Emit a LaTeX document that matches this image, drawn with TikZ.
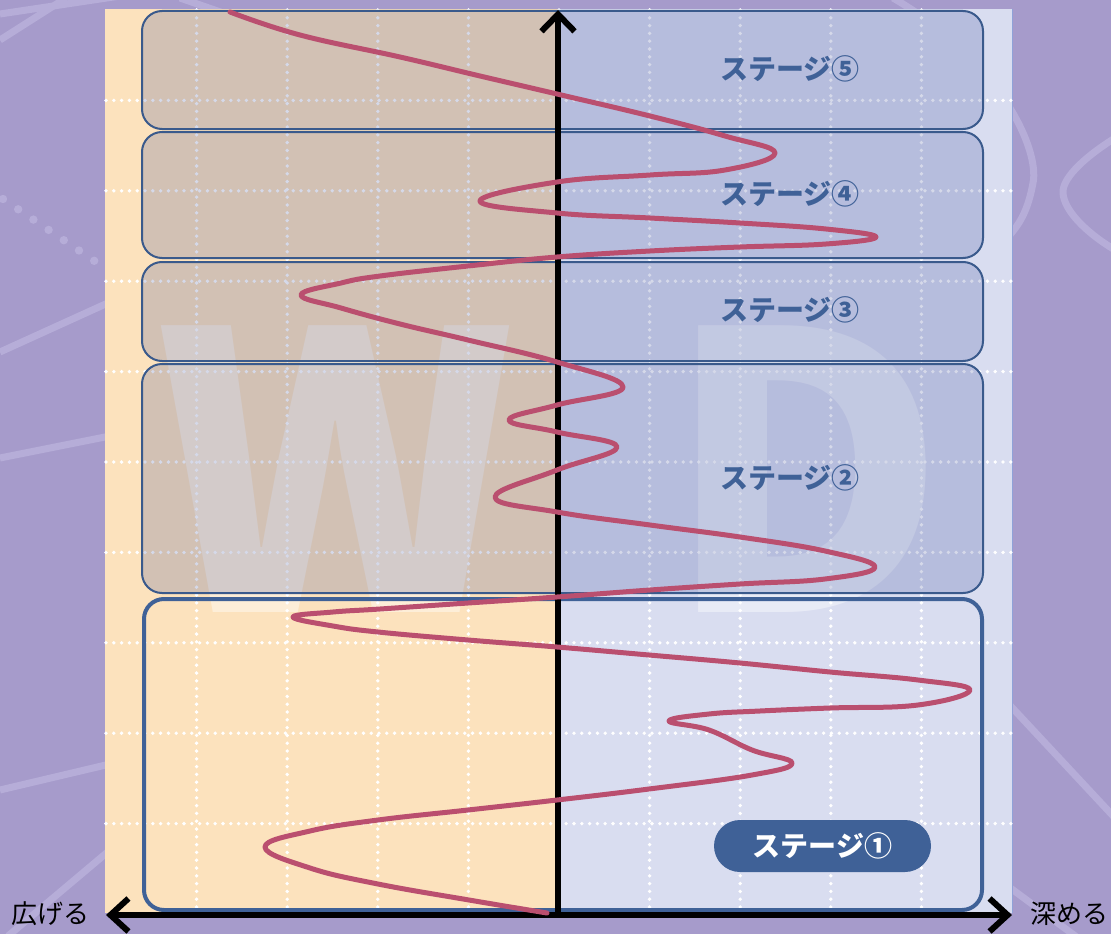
\documentclass[tikz,border=0pt]{standalone}
\usepackage{fontspec}
\newfontfamily\jp{Noto Sans CJK JP}
\usetikzlibrary{arrows.meta}
\definecolor{bgpurple}{HTML}{A69BCB}
\definecolor{deco}{HTML}{B6ADD8}
\definecolor{orangebg}{HTML}{FCE2BD}
\definecolor{bluebg}{HTML}{D9DDF0}
\definecolor{bluerim}{HTML}{8FA2D8}
\definecolor{boxline}{HTML}{3A5A8C}
\definecolor{stagecol}{HTML}{3F6197}
\definecolor{curvecol}{HTML}{BA4F6F}
\definecolor{overlaycol}{HTML}{2E4194}
\begin{document}
\begin{tikzpicture}[x=1pt,y=-1pt,
  decoline/.style={draw=deco, line width=7pt},
  griddot/.style={draw=white, line width=3.8pt, line cap=round, dash pattern=on 0pt off 7.8pt},
  stagebox/.style={draw=boxline, line width=2pt, fill=overlaycol, fill opacity=0.2, rounded corners=20pt, inner sep=0pt, anchor=north west},
  firstbox/.style={draw=stagecol, line width=4pt, rounded corners=20pt, inner sep=0pt, anchor=north west},
  stagelabel/.style={font=\jp\bfseries\fontsize{28}{30}\selectfont, text=stagecol, inner sep=0pt},
  axislabel/.style={font=\jp\fontsize{26}{28}\selectfont, text=black, inner sep=0pt},
  bigletter/.style={font=\jp\bfseries\fontsize{385}{385}\selectfont, text=white, text opacity=0.42, inner sep=0pt, anchor=base},
  axisline/.style={draw=black, line width=6pt},
  curveline/.style={draw=curvecol, line width=5pt, line cap=round, line join=round}]
\useasboundingbox (0,0) rectangle (1111,934);
% background
\fill[bgpurple] (0,0) rectangle (1111,934);
% decorative lines
\draw[decoline] (0,14) -- (200,-16);
\draw[decoline] (0,40) -- (66,-2);
\draw[decoline] (180,-2) -- (232,16);
\draw[decoline] (0,352) -- (110,302);
\draw[decoline] (0,458) -- (110,436);
\draw[decoline] (0,790) -- (110,764);
\draw[decoline] (8,936) -- (110,850);
\draw[decoline] (893,-2) .. controls (1000,60) and (1040,150) .. (1033,183) .. controls (1028,210) and (1020,225) .. (1005,240);
\draw[decoline] (1115,138) .. controls (1080,160) and (1062,180) .. (1063,193) .. controls (1064,210) and (1085,232) .. (1115,250);
\draw[decoline] (1005,700) -- (1115,818);
\draw[decoline] (1005,884) -- (1078,938);
\foreach \k in {0,...,6} {
  \fill[deco] ({3+15.2*\k},{199+10.3*\k}) circle (4.2pt);
}
% panel
\fill[orangebg] (105,9) rectangle (558,913);
\fill[bluebg] (558,9) rectangle (1012,913);
\draw[bluerim, line width=1pt] (1012,9) -- (1012,913);
% big letters
\node[bigletter] (W) at (335.5,612) {W};
\node[bigletter] (D) at (806,612) {D};
% grid
\foreach \i in {1,...,9} {
  \draw[griddot] ({106+90.6*\i},10) -- ({106+90.6*\i},912);
  \draw[griddot] (106,{10+90.4*\i}) -- (1011,{10+90.4*\i});
}
% stage boxes
\node[stagebox, minimum width=841pt, minimum height=118pt] (s5) at (141,10) {};
\node[stagebox, minimum width=841pt, minimum height=126pt] (s4) at (141,131) {};
\node[stagebox, minimum width=841pt, minimum height=99pt] (s3) at (141,261) {};
\node[stagebox, minimum width=841pt, minimum height=229pt] (s2) at (141,363) {};
\node[firstbox, minimum width=838pt, minimum height=311pt] (s1) at (142,597) {};
% axes
\coordinate (origin) at (558,915);
\coordinate (topend) at (558,10);
\coordinate (leftend) at (106,915);
\coordinate (rightend) at (1012,915);
\draw[axisline, -{Straight Barb[length=17pt,width=33pt]}] (origin) -- (topend);
\draw[axisline, {Straight Barb[length=18pt,width=33pt]}-{Straight Barb[length=18pt,width=33pt]}] (leftend) -- (rightend);
% curve
\draw[curveline] plot[smooth, tension=0.7] coordinates {
 (230,12) (300,35) (400,57) (480,76) (557,94) (650,116) (725,136)
 (775,153)
 (725,170) (650,175) (557,182)
 (480,201)
 (557,213) (650,218) (740,223) (826,229)
 (876,237)
 (826,244) (740,247) (650,251) (557,257) (468,266) (380,276) (341,283)
 (301,295)
 (341,308) (400,324) (468,340) (557,362)
 (623,387)
 (557,405)
 (509,420)
 (557,432)
 (617,447)
 (557,470)
 (495,497)
 (557,512) (650,525) (740,537) (825,551)
 (875,567)
 (825,579) (740,584) (650,590) (557,597) (468,603) (380,609) (333,612)
 (293,617)
 (333,626) (378,632) (468,640) (557,647) (649,655) (740,663) (830,672) (918,680)
 (970,690)
 (918,705) (830,708) (760,711) (709,714)
 (669,721)
 (709,730) (752,750)
 (792,763)
 (752,775) (649,789) (557,800) (468,810) (378,820) (310,831)
 (265,847)
 (310,868) (378,884) (469,900) (547,913)
};
% labels
\node[stagelabel] (l5) at (790,69) {ステージ⑤};
\node[stagelabel] (l4) at (790,194) {ステージ④};
\node[stagelabel] (l3) at (790,310) {ステージ③};
\node[stagelabel] (l2) at (790,478) {ステージ②};
\node[fill=stagecol, rounded corners=26pt, minimum width=217pt, minimum height=52pt, inner sep=0pt,
      font=\jp\bfseries\fontsize{28}{30}\selectfont, text=white] (l1) at (822.5,846) {ステージ①};
\node[axislabel] (wide) at (51,914) {広げる};
\node[axislabel] (deep) at (1069,914) {深める};
\end{tikzpicture}
\end{document}
